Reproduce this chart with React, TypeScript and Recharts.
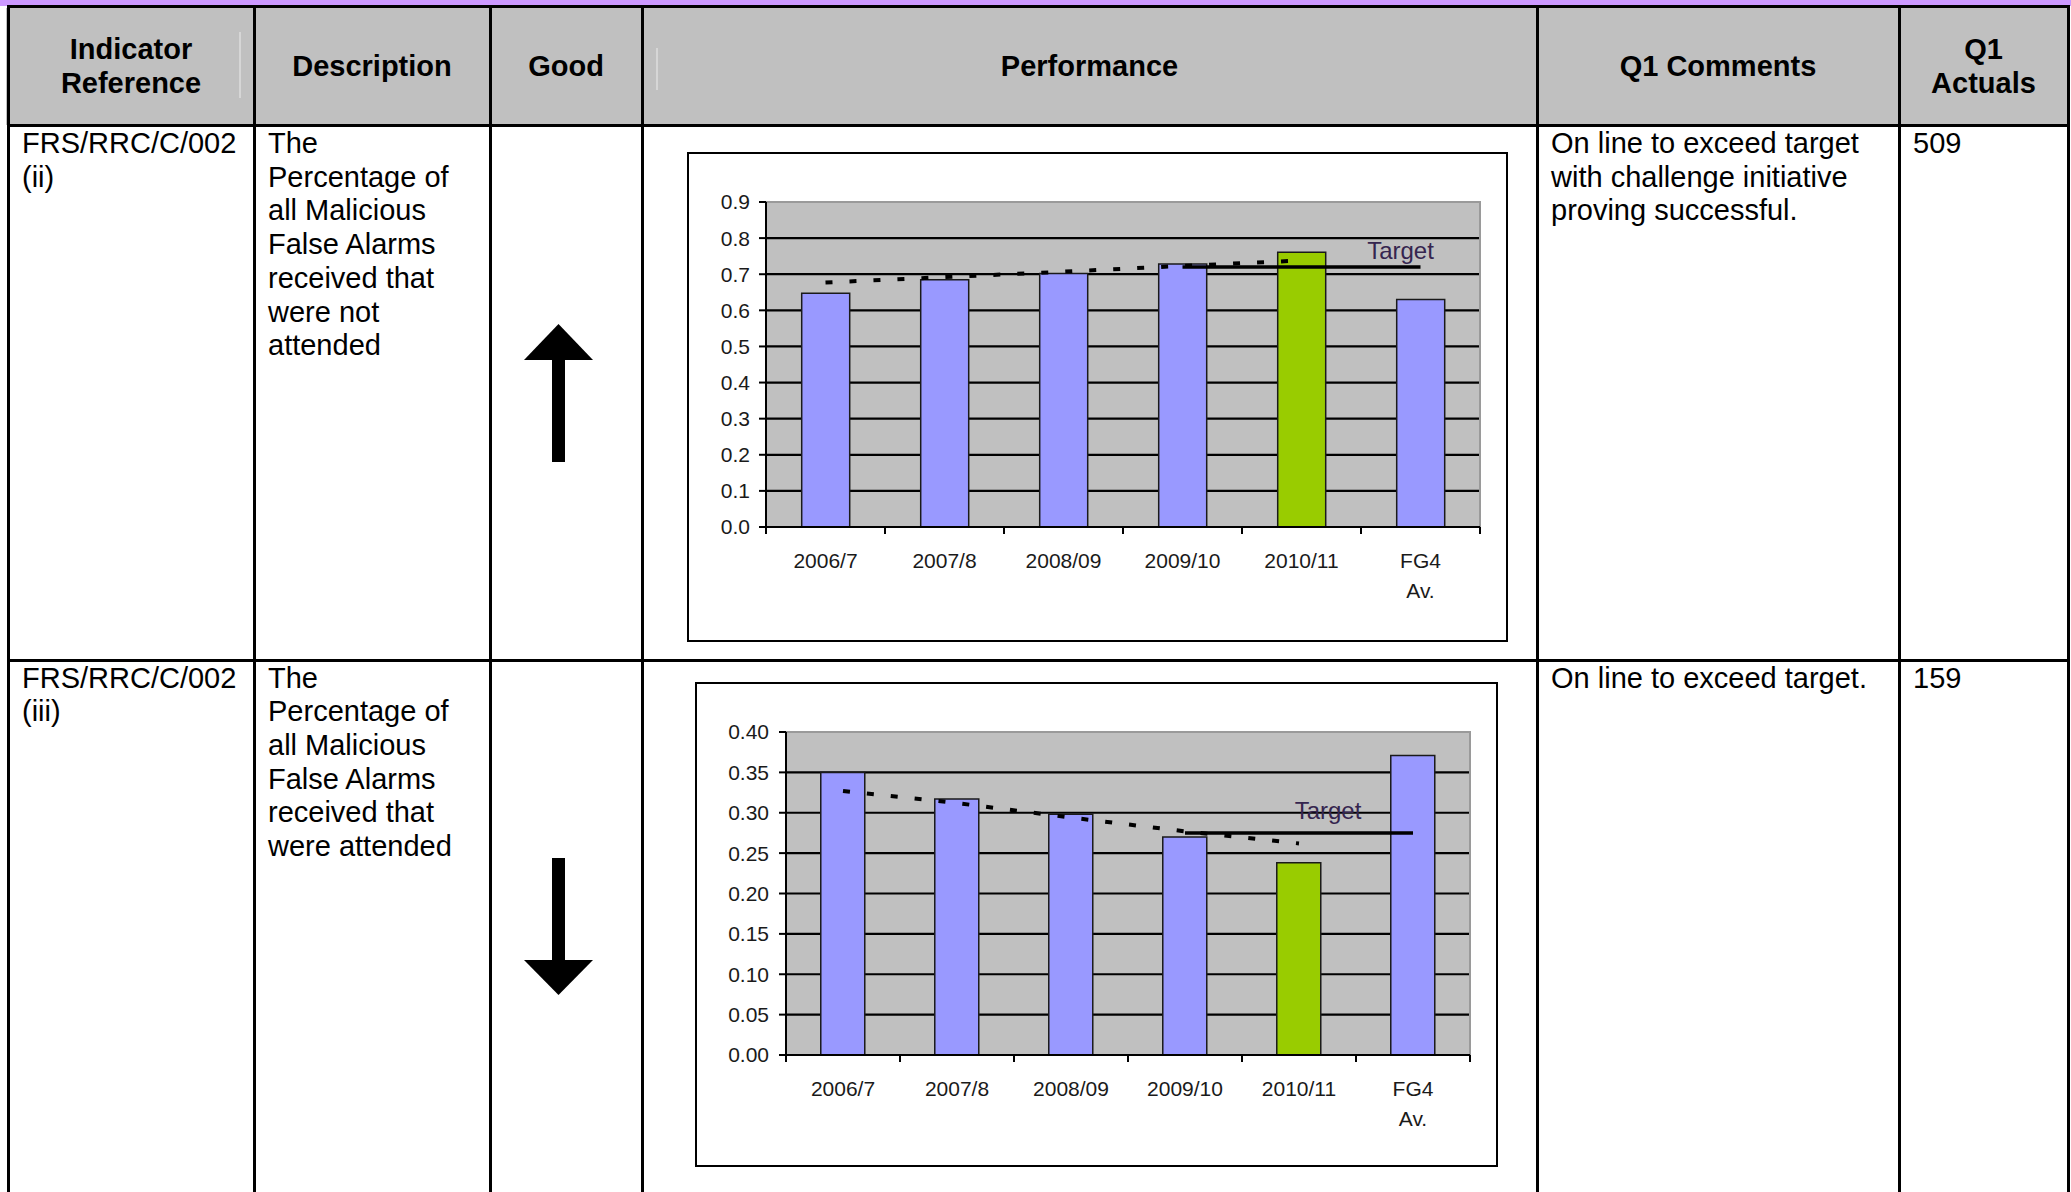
import React from 'react';
import {
  ComposedChart,
  Bar,
  Line,
  XAxis,
  YAxis,
  CartesianGrid,
  Cell,
  LabelList,
  ReferenceArea,
} from 'recharts';

const categories = ['2006/7', '2007/8', '2008/09', '2009/10', '2010/11', 'FG4\nAv.'];
const highlightCategory = '2010/11';

// FRS/RRC/C/002 (ii) - not attended
const notAttended = [0.647, 0.685, 0.702, 0.728, 0.761, 0.63];
const notAttendedTrend = [0.677, 0.692, 0.707, 0.723, 0.738, null];
const notAttendedTarget = [null, null, null, 0.72, 0.72, 0.72];
const notAttendedTicks = [0, 0.1, 0.2, 0.3, 0.4, 0.5, 0.6, 0.7, 0.8, 0.9];

// FRS/RRC/C/002 (iii) - attended
const attended = [0.35, 0.317, 0.298, 0.27, 0.238, 0.371];
const attendedTrend = [0.327, 0.312, 0.294, 0.277, 0.262, null];
const attendedTarget = [null, null, null, 0.275, 0.275, 0.275];
const attendedTicks = [0, 0.05, 0.1, 0.15, 0.2, 0.25, 0.3, 0.35, 0.4];

const FONT = '"Liberation Sans", Arial, Helvetica, sans-serif';
const BAR_BLUE = '#9999ff';
const BAR_GREEN = '#99cc00';

// category label plus Excel-style tick marks between the categories
function CategoryTick({ x, y, payload, width, visibleTicksCount, index }: any) {
  const lines = String(payload.value).split('\n');
  const band = width / visibleTicksCount;
  return (
    <g>
      <line x1={x - band / 2} x2={x - band / 2} y1={y} y2={y + 7} stroke="#000" strokeWidth={2} />
      {index === visibleTicksCount - 1 && (
        <line x1={x + band / 2} x2={x + band / 2} y1={y} y2={y + 7} stroke="#000" strokeWidth={2} />
      )}
      <text x={x} y={y} textAnchor="middle" fill="#1a1a1a" fontSize={21} fontFamily={FONT}>
        {lines.map((l, i) => (
          <tspan key={i} x={x} y={y + 40.5 + i * 30}>
            {l}
          </tspan>
        ))}
      </text>
    </g>
  );
}

function makeTargetLabel(dx: number, dy: number) {
  return (props: any) => {
    const { x, y, index } = props;
    if (index !== categories.length - 1 || x == null || y == null) return null;
    return (
      <text
        x={x + dx}
        y={y + dy}
        textAnchor="middle"
        dominantBaseline="central"
        fill="#35254f"
        fontSize={24}
        fontFamily={FONT}
      >
        Target
      </text>
    );
  };
}

type PerfProps = {
  values: number[];
  trend: (number | null)[];
  target: (number | null)[];
  ticks: number[];
  decimals: number;
  width: number;
  height: number;
  margin: { top: number; right: number; bottom: number; left: number };
  yWidth: number;
  gap: string;
  labelDx: number;
  labelDy: number;
  tickMargin: number;
};

function PerformanceChart(p: PerfProps) {
  const data = categories.map((c, i) => ({
    category: c,
    value: p.values[i],
    trend: p.trend[i],
    target: p.target[i],
  }));
  const max = p.ticks[p.ticks.length - 1];
  return (
    <ComposedChart width={p.width} height={p.height} data={data} margin={p.margin} barCategoryGap={p.gap}>
      <CartesianGrid
        fill="#c0c0c0"
        fillOpacity={1}
        stroke="#000"
        strokeWidth={2.2}
        vertical={false}
        horizontalValues={p.ticks.slice(1, -1)}
        yAxisId="left"
        xAxisId="cat"
      />
      <ReferenceArea
        yAxisId="left"
        xAxisId="cat"
        y1={0}
        y2={max}
        fill="none"
        fillOpacity={0}
        stroke="#9a9a9a"
        strokeWidth={2}
      />
      <XAxis
        xAxisId="cat"
        dataKey="category"
        height={1}
        axisLine={{ stroke: '#000', strokeWidth: 2 }}
        tickLine={false}
        tickSize={0}
        tickMargin={0}
        interval={0}
        tick={<CategoryTick />}
      />
      <YAxis
        yAxisId="left"
        domain={[0, max]}
        ticks={p.ticks}
        width={p.yWidth}
        interval={0}
        tickSize={7}
        tickMargin={p.tickMargin}
        tickFormatter={(v: number) => v.toFixed(p.decimals)}
        tick={{ fill: '#1a1a1a', fontSize: 21, fontFamily: FONT }}
        tickLine={{ stroke: '#000', strokeWidth: 2 }}
        axisLine={{ stroke: '#000', strokeWidth: 2 }}
      />
      <Bar
        yAxisId="left"
        xAxisId="cat"
        dataKey="value"
        stroke="#1a1a1a"
        strokeWidth={1.5}
        isAnimationActive={false}
      >
        {data.map((d) => (
          <Cell key={d.category} fill={d.category === highlightCategory ? BAR_GREEN : BAR_BLUE} />
        ))}
      </Bar>
      <Line
        yAxisId="left"
        xAxisId="cat"
        dataKey="trend"
        stroke="#000"
        strokeWidth={4}
        strokeDasharray="7 17"
        dot={false}
        activeDot={false}
        isAnimationActive={false}
      />
      <Line
        yAxisId="left"
        xAxisId="cat"
        dataKey="target"
        stroke="#000"
        strokeWidth={3.5}
        dot={false}
        activeDot={false}
        isAnimationActive={false}
      >
        <LabelList dataKey="target" content={makeTargetLabel(p.labelDx, p.labelDy)} />
      </Line>
    </ComposedChart>
  );
}

const LINE = 3;

function VLine({ x, y1, y2 }: { x: number; y1: number; y2: number }) {
  return (
    <div style={{ position: 'absolute', left: x - LINE / 2, top: y1, width: LINE, height: y2 - y1, background: '#000' }} />
  );
}

function HLine({ y, x1, x2 }: { y: number; x1: number; x2: number }) {
  return (
    <div style={{ position: 'absolute', top: y - LINE / 2, left: x1, height: LINE, width: x2 - x1, background: '#000' }} />
  );
}

const cols = [8, 254, 490, 642, 1537, 1899, 2068];

function HeaderCell({ i, children }: { i: number; children: React.ReactNode }) {
  return (
    <div
      style={{
        position: 'absolute',
        left: cols[i],
        top: 7,
        width: cols[i + 1] - cols[i],
        height: 117,
        display: 'flex',
        alignItems: 'center',
        justifyContent: 'center',
        textAlign: 'center',
        fontWeight: 'bold',
        fontSize: 29,
        lineHeight: '34px',
      }}
    >
      {children}
    </div>
  );
}

function BodyText({ x, y, children }: { x: number; y: number; children: React.ReactNode }) {
  return (
    <div style={{ position: 'absolute', left: x, top: y, fontSize: 29, lineHeight: '33.7px', whiteSpace: 'pre' }}>
      {children}
    </div>
  );
}

function Arrow({ up, top }: { up: boolean; top: number }) {
  return (
    <svg style={{ position: 'absolute', left: 524, top }} width={70} height={140}>
      {up ? (
        <>
          <polygon points="0,36 69,36 34.5,0" fill="#000" />
          <rect x={28} y={34} width={13} height={104} fill="#000" />
        </>
      ) : (
        <>
          <rect x={28} y={0} width={13} height={104} fill="#000" />
          <polygon points="0,102 69,102 34.5,137" fill="#000" />
        </>
      )}
    </svg>
  );
}

export default function App() {
  return (
    <div
      style={{
        position: 'absolute',
        left: 0,
        top: 0,
        width: 2071,
        height: 1192,
        overflow: 'hidden',
        background: '#fff',
        fontFamily: FONT,
        color: '#000',
      }}
    >
      <div style={{ position: 'absolute', left: 0, top: 0, width: 2071, height: 6, background: '#cc99ff' }} />
      <div style={{ position: 'absolute', left: 6, top: 8, width: 2063, height: 117, background: '#c0c0c0' }} />
      <div style={{ position: 'absolute', left: 239, top: 32, width: 1.5, height: 66, background: '#d6d6d6' }} />
      <div style={{ position: 'absolute', left: 656, top: 48, width: 1.5, height: 42, background: '#d6d6d6' }} />

      <HeaderCell i={0}>
        Indicator
        <br />
        Reference
      </HeaderCell>
      <HeaderCell i={1}>Description</HeaderCell>
      <HeaderCell i={2}>Good</HeaderCell>
      <HeaderCell i={3}>Performance</HeaderCell>
      <HeaderCell i={4}>Q1 Comments</HeaderCell>
      <HeaderCell i={5}>
        Q1
        <br />
        Actuals
      </HeaderCell>

      <HLine y={6.5} x1={6.5} x2={2069.5} />
      <HLine y={125.5} x1={6.5} x2={2069.5} />
      <HLine y={660} x1={6.5} x2={2069.5} />
      {cols.map((x) => (
        <VLine key={x} x={x} y1={5} y2={1192} />
      ))}

      {/* row (ii) */}
      <BodyText x={22} y={127}>{'FRS/RRC/C/002\n(ii)'}</BodyText>
      <BodyText x={268} y={127}>
        {'The\nPercentage of\nall Malicious\nFalse Alarms\nreceived that\nwere not\nattended'}
      </BodyText>
      <Arrow up top={324} />
      <div
        style={{
          position: 'absolute',
          left: 687,
          top: 152,
          width: 821,
          height: 490,
          border: '2px solid #000',
          boxSizing: 'border-box',
          background: '#fff',
        }}
      >
        <PerformanceChart
          values={notAttended}
          trend={notAttendedTrend}
          target={notAttendedTarget}
          ticks={notAttendedTicks}
          decimals={1}
          width={817}
          height={486}
          margin={{ top: 48, right: 26, bottom: 112, left: 0 }}
          yWidth={77}
          gap="30%"
          labelDx={-20}
          labelDy={-17}
          tickMargin={9}
        />
      </div>
      <BodyText x={1551} y={127}>
        {'On line to exceed target\nwith challenge initiative\nproving successful.'}
      </BodyText>
      <BodyText x={1913} y={127}>509</BodyText>

      {/* row (iii) */}
      <BodyText x={22} y={661.5}>{'FRS/RRC/C/002\n(iii)'}</BodyText>
      <BodyText x={268} y={661.5}>
        {'The\nPercentage of\nall Malicious\nFalse Alarms\nreceived that\nwere attended'}
      </BodyText>
      <Arrow up={false} top={858} />
      <div
        style={{
          position: 'absolute',
          left: 695,
          top: 682,
          width: 803,
          height: 485,
          border: '2px solid #000',
          boxSizing: 'border-box',
          background: '#fff',
        }}
      >
        <PerformanceChart
          values={attended}
          trend={attendedTrend}
          target={attendedTarget}
          ticks={attendedTicks}
          decimals={2}
          width={799}
          height={481}
          margin={{ top: 48, right: 26, bottom: 109, left: 0 }}
          yWidth={89}
          gap="30.5%"
          labelDx={-85}
          labelDy={-22}
          tickMargin={10}
        />
      </div>
      <BodyText x={1551} y={661.5}>On line to exceed target.</BodyText>
      <BodyText x={1913} y={661.5}>159</BodyText>
    </div>
  );
}
